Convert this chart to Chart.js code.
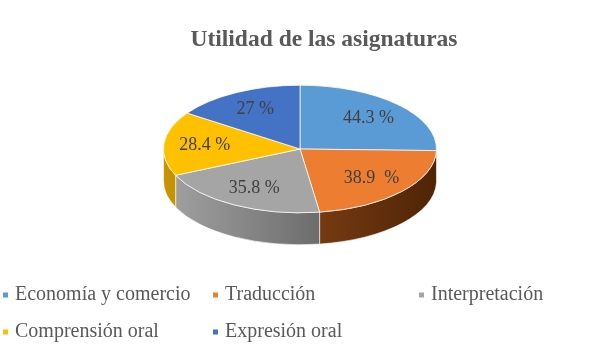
<!DOCTYPE html>
<html>
<head>
<meta charset="utf-8">
<script src="https://cdn.jsdelivr.net/npm/chart.js@4.4.0/dist/chart.umd.min.js"></script>
<style>
  html, body { margin: 0; padding: 0; background: #fff; }
  #wrap { width: 600px; height: 360px; position: relative; }
  .fontprobe { position: absolute; left: -999px; top: 0; font-family: "Liberation Serif"; }
</style>
</head>
<body>
<span class="fontprobe">Aa <b>Bb</b></span>
<div id="wrap"><canvas id="pieChart" width="600" height="360"></canvas></div>
<script>
// data
var categories = ["Economía y comercio", "Traducción", "Interpretación", "Comprensión oral", "Expresión oral"];
var values = [44.3, 38.9, 35.8, 28.4, 27];
var valueLabels = ["44.3 %", "38.9  %", "35.8 %", "28.4 %", "27 %"];
var title = "Utilidad de las asignaturas";

// colours
var topColors = ["#5b9bd5", "#ed7d31", "#a5a5a5", "#ffc000", "#4472c4"];
var sideLight = ["#3d6f9c", "#a85822", "#a3a3a3", "#c79500", "#2f5597"];
var sideDark = ["#23496b", "#4f2406", "#444444", "#7a5a00", "#1f3864"];

// 3d look
var centerY = 149;      // y of the top face centre
var squash = 64 / 137;  // vertical squash of the circle
var depth = 32;         // thickness of the pie
var serif = "'Liberation Serif', 'Times New Roman', serif";

var pie3d = {
    id: "pie3d",
    beforeDatasetsDraw: function (chart) {
        var ctx = chart.ctx;
        var meta = chart.getDatasetMeta(0);
        var a0 = meta.data[0];
        var cx = a0.x, cy = a0.y, r = a0.outerRadius;
        ctx.save();
        ctx.translate(0, centerY);
        ctx.scale(1, squash);
        ctx.translate(0, -cy);
        var d = depth / squash;
        meta.data.forEach(function (arc, i) {
            var a = Math.max(arc.startAngle, 0);
            var b = Math.min(arc.endAngle, Math.PI);
            if (a >= b) return;
            var g = ctx.createLinearGradient(cx - r, 0, cx + r, 0);
            g.addColorStop(0, sideLight[i]);
            g.addColorStop(1, sideDark[i]);
            ctx.beginPath();
            ctx.arc(cx, cy, r, a, b);
            ctx.lineTo(cx + r * Math.cos(b), cy + r * Math.sin(b) + d);
            ctx.arc(cx, cy + d, r, b, a, true);
            ctx.closePath();
            ctx.fillStyle = g;
            ctx.fill();
            ctx.strokeStyle = "rgba(255,255,255,0.8)";
            ctx.lineWidth = 1;
            ctx.stroke();
        });
    },
    afterDatasetsDraw: function (chart) {
        chart.ctx.restore();
    },
    afterDraw: function (chart) {
        var ctx = chart.ctx;
        var meta = chart.getDatasetMeta(0);
        ctx.save();
        // slice labels
        ctx.font = "18px " + serif;
        ctx.fillStyle = "#404040";
        ctx.textAlign = "center";
        ctx.textBaseline = "middle";
        meta.data.forEach(function (arc, i) {
            var m = (arc.startAngle + arc.endAngle) / 2;
            var f = 0.7;
            var x = arc.x + f * arc.outerRadius * Math.cos(m);
            var y = centerY + squash * f * arc.outerRadius * Math.sin(m);
            ctx.fillText(valueLabels[i], x, y);
        });
        // title
        ctx.font = "bold 23.5px " + serif;
        ctx.fillStyle = "#595959";
        ctx.fillText(title, 324, 40);
        // legend in a grid
        var cols = [3, 213, 419];
        var rows = [295, 332];
        ctx.font = "20px " + serif;
        ctx.textAlign = "left";
        categories.forEach(function (c, i) {
            var x = cols[i % 3], y = rows[Math.floor(i / 3)];
            ctx.fillStyle = topColors[i];
            ctx.fillRect(x, y - 2.5, 5, 5);
            ctx.fillStyle = "#595959";
            ctx.fillText(c, x + 12, y);
        });
        ctx.restore();
    }
};

function renderChart() {
    new Chart(document.getElementById("pieChart").getContext("2d"), {
        type: "pie",
        data: {
            labels: categories,
            datasets: [{
                data: values,
                backgroundColor: topColors,
                borderColor: "#ffffff",
                borderWidth: 1,
                clip: false
            }]
        },
        options: {
            responsive: false,
            animation: false,
            layout: { padding: { left: 163, right: 163, top: 12, bottom: 74 } },
            plugins: {
                legend: { display: false },
                tooltip: { enabled: false }
            }
        },
        plugins: [pie3d]
    });
}

Promise.all([
    document.fonts.load("20px 'Liberation Serif'"),
    document.fonts.load("bold 20px 'Liberation Serif'")
]).then(renderChart, renderChart);
</script>
</body>
</html>
